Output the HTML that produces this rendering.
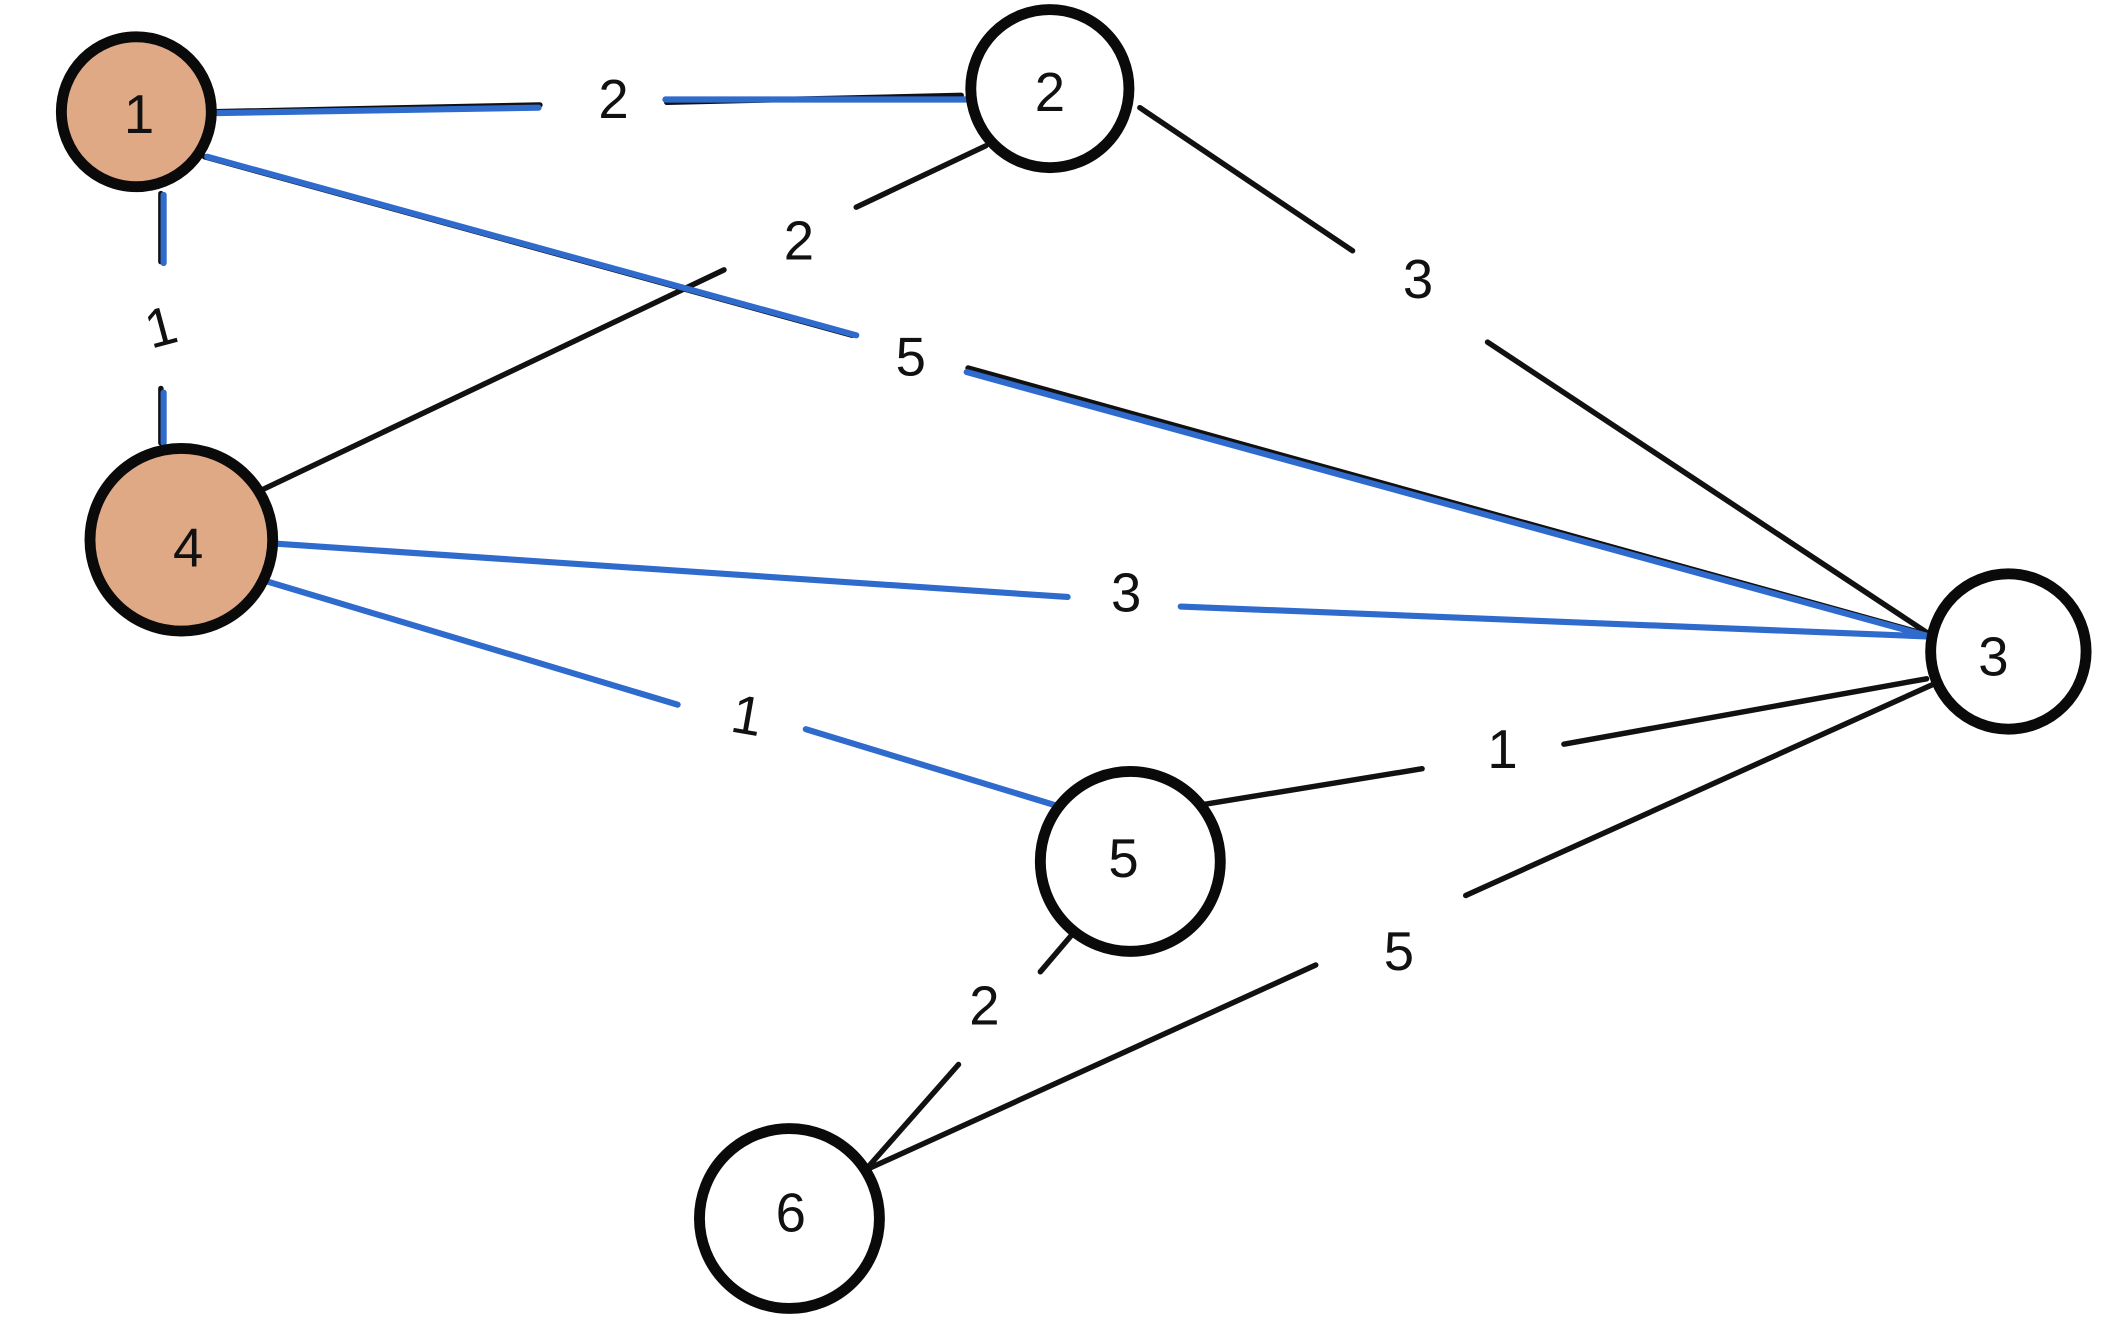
<!DOCTYPE html>
<html><head><meta charset="utf-8"><style>
html,body{margin:0;padding:0;background:#fff;}
svg{display:block;}
text{font-family:"Liberation Sans",sans-serif;font-size:40px;fill:#111;text-anchor:middle;dominant-baseline:central;}
</style></head><body>
<svg width="2127" height="1333" viewBox="0 0 1560 978" preserveAspectRatio="none" xmlns="http://www.w3.org/2000/svg">
<rect width="1560" height="978" fill="#fff"/>
<g stroke="#111" stroke-width="4" stroke-linecap="round" fill="none">
<line x1="157" y1="82" x2="396" y2="77"/><line x1="489" y1="75" x2="705" y2="70"/>
<line x1="723" y1="107" x2="628" y2="152"/><line x1="531" y1="198" x2="193" y2="359"/>
<line x1="150" y1="115" x2="625" y2="246"/><line x1="710" y1="270" x2="1415" y2="466"/>
<line x1="836" y1="79" x2="992" y2="184"/><line x1="1091" y1="251" x2="1413" y2="464"/>
<line x1="118" y1="142" x2="118" y2="192"/><line x1="118" y1="285" x2="118" y2="325"/>
<line x1="884" y1="590" x2="1043" y2="564"/><line x1="1147" y1="546" x2="1413" y2="498"/>
<line x1="638" y1="857" x2="965" y2="708"/><line x1="1075" y1="657" x2="1418" y2="502"/>
<line x1="786" y1="686" x2="763" y2="713"/><line x1="703" y1="781" x2="636" y2="857"/>
</g>
<g stroke="#2f6bcc" stroke-width="4.5" stroke-linecap="round" fill="none">
<line x1="155" y1="83" x2="395" y2="79"/><line x1="488" y1="73" x2="710" y2="73"/>
<line x1="152" y1="115" x2="628" y2="246"/><line x1="709" y1="273" x2="1415" y2="467"/>
<line x1="120" y1="143" x2="120" y2="193"/><line x1="120" y1="288" x2="120" y2="325"/>
<line x1="204" y1="399" x2="783" y2="438"/><line x1="866" y1="445" x2="1415" y2="467"/>
<line x1="194" y1="426" x2="497" y2="517"/><line x1="591" y1="535" x2="778" y2="592"/>
</g>
<g stroke="#0a0a0a" stroke-width="8">
<circle cx="100" cy="82" r="55" fill="#e0a985"/>
<circle cx="770" cy="65" r="58" fill="#fff"/>
<circle cx="1473" cy="478" r="57" fill="#fff"/>
<circle cx="133" cy="396" r="67" fill="#e0a985"/>
<circle cx="829" cy="632" r="66" fill="#fff"/>
<circle cx="579" cy="894" r="66" fill="#fff"/>
</g>
<text x="102" y="84">1</text>
<text x="770" y="68">2</text>
<text x="1462" y="482">3</text>
<text x="138" y="402">4</text>
<text x="824" y="630">5</text>
<text x="580" y="890">6</text>
<text x="450" y="73">2</text>
<text x="586" y="177">2</text>
<text x="668" y="262">5</text>
<text x="1040" y="205">3</text>
<text x="826" y="435">3</text>
<text x="548" y="525" transform="rotate(10 548 525)">1</text>
<text x="1102" y="550">1</text>
<text x="1026" y="698">5</text>
<text x="722" y="738">2</text>
<text x="118" y="240" transform="rotate(-15 118 240)">1</text>
</svg>
</body></html>
